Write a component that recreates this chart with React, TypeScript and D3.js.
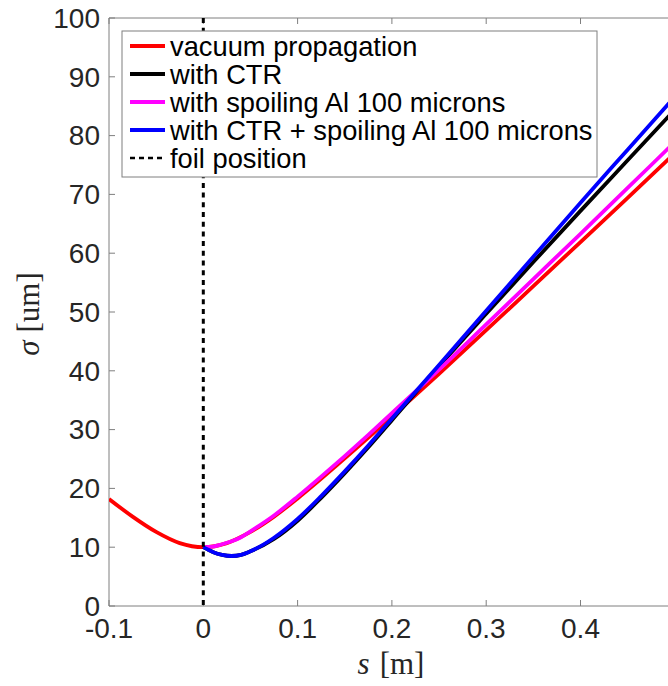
import React from "react";
import * as d3 from "d3";

// beam size along s
const sVacuum = [-0.1, -0.075, -0.05, -0.025, 0, 0.025, 0.05, 0.075, 0.1, 0.15, 0.2, 0.25, 0.3, 0.35, 0.4, 0.45, 0.5];
const vacuum = [18.2, 15.2, 12.6, 10.7, 10.0, 10.7, 12.6, 15.2, 18.3, 25.1, 32.2, 39.5, 46.9, 54.4, 61.9, 69.4, 77.0];

const sFoil = [0, 0.01, 0.02, 0.03, 0.04, 0.05, 0.075, 0.1, 0.125, 0.15, 0.175, 0.2, 0.25, 0.3, 0.35, 0.4, 0.45, 0.5];
const withCtr = [10.0, 9.2, 8.7, 8.5, 8.7, 9.3, 11.4, 14.5, 18.4, 22.6, 27.0, 31.6, 40.8, 49.7, 58.5, 67.2, 75.8, 84.4];
const withSpoil = [10.0, 10.1, 10.5, 11.0, 11.7, 12.7, 15.4, 18.6, 22.0, 25.5, 29.1, 32.8, 40.2, 47.9, 55.6, 63.3, 71.1, 78.9];
const withCtrSpoil = [10.0, 9.2, 8.7, 8.5, 8.7, 9.3, 11.6, 14.8, 18.7, 22.9, 27.3, 31.9, 41.0, 50.2, 59.4, 68.6, 77.6, 86.6];

const xTicks = [-0.1, 0, 0.1, 0.2, 0.3, 0.4, 0.5];
const xTickLabels = ["-0.1", "0", "0.1", "0.2", "0.3", "0.4", ""];
const yTicks = [0, 10, 20, 30, 40, 50, 60, 70, 80, 90, 100];

const series = [
  { name: "vacuum propagation", s: sVacuum, v: vacuum, color: "#ff0000" },
  { name: "with CTR", s: sFoil, v: withCtr, color: "#000000" },
  { name: "with spoiling Al 100 microns", s: sFoil, v: withSpoil, color: "#ff00ff" },
  { name: "with CTR + spoiling Al 100 microns", s: sFoil, v: withCtrSpoil, color: "#0000ff" },
];

const W = 668;
const H = 686;
const left = 109;
const top = 18;
const bottom = 606;

const App = () => {
  const x = d3.scaleLinear().domain([-0.1, 0.5]).range([left, left + 6 * 94.3]);
  const y = d3.scaleLinear().domain([0, 100]).range([bottom, top]);
  const right = x(0.5);

  const line = (s: number[], v: number[]) =>
    d3
      .line<number>()
      .x((_, i) => x(s[i]))
      .y((d) => y(d))
      .curve(d3.curveMonotoneX)(v);

  const tickColor = "#262626";
  const axisColor = "#7f7f7f";
  const font = "'Liberation Sans', Arial, sans-serif";
  const serif = "'Liberation Serif', 'DejaVu Serif', serif";

  const legendX = 122;
  const legendY = 31;
  const rowH = 28;

  return (
    <div style={{ position: "absolute", left: 0, top: 0 }}>
      <svg width={W} height={H} style={{ display: "block", background: "#fff" }}>
        <defs>
          <clipPath id="plot">
            <rect x={left} y={top} width={right - left} height={bottom - top} />
          </clipPath>
        </defs>

        {/* axes box */}
        <line x1={left} x2={right} y1={top} y2={top} stroke={axisColor} />
        <line x1={left} x2={right} y1={bottom} y2={bottom} stroke={axisColor} />
        <line x1={left} x2={left} y1={top} y2={bottom} stroke={axisColor} />

        {xTicks.map((t, i) => (
          <g key={"x" + t}>
            <line x1={x(t)} x2={x(t)} y1={bottom} y2={bottom - 6} stroke={axisColor} />
            <line x1={x(t)} x2={x(t)} y1={top} y2={top + 6} stroke={axisColor} />
            {xTickLabels[i] && (
              <text
                x={x(t)}
                y={638}
                textAnchor="middle"
                fontFamily={font}
                fontSize={28}
                fill={tickColor}
              >
                {xTickLabels[i]}
              </text>
            )}
          </g>
        ))}

        {yTicks.map((t) => (
          <g key={"y" + t}>
            <line x1={left} x2={left + 6} y1={y(t)} y2={y(t)} stroke={axisColor} />
            <text
              x={100}
              y={y(t)}
              dy="0.35em"
              textAnchor="end"
              fontFamily={font}
              fontSize={28}
              fill={tickColor}
            >
              {t}
            </text>
          </g>
        ))}

        <g clipPath="url(#plot)">
          {series.map((d) => (
            <path
              key={d.name}
              d={line(d.s, d.v) || ""}
              fill="none"
              stroke={d.color}
              strokeWidth={3.8}
            />
          ))}
          <line
            x1={x(0)}
            x2={x(0)}
            y1={top}
            y2={bottom}
            stroke="#000"
            strokeWidth={3}
            strokeDasharray="5,4.7"
          />
        </g>

        {/* legend */}
        <rect
          x={legendX}
          y={legendY}
          width={475}
          height={146}
          fill="#fff"
          stroke={axisColor}
        />
        {[...series, { name: "foil position", color: "#000", dashed: true } as any].map((d, i) => {
          const cy = legendY + 15 + i * rowH;
          return (
            <g key={"l" + d.name}>
              <line
                x1={130}
                x2={165}
                y1={cy}
                y2={cy}
                stroke={d.color}
                strokeWidth={d.dashed ? 2.5 : 3.8}
                strokeDasharray={d.dashed ? "5,4" : undefined}
              />
              <text x={170} y={cy} dy="0.36em" fontFamily={font} fontSize={27.3} fill="#000">
                {d.name}
              </text>
            </g>
          );
        })}

        {/* axis labels */}
        <text
          transform={`translate(28,314) rotate(-90)`}
          textAnchor="middle"
          dominantBaseline="central"
          fontFamily={serif}
          fontSize={31}
          fill={tickColor}
        >
          <tspan fontStyle="italic">σ</tspan>
          <tspan dx={8}>[um]</tspan>
        </text>
        <text
          x={391}
          y={674}
          textAnchor="middle"
          fontFamily={serif}
          fontSize={31}
          fill={tickColor}
        >
          <tspan fontStyle="italic">s</tspan>
          <tspan dx={10}>[m]</tspan>
        </text>
      </svg>
    </div>
  );
};

export default App;
